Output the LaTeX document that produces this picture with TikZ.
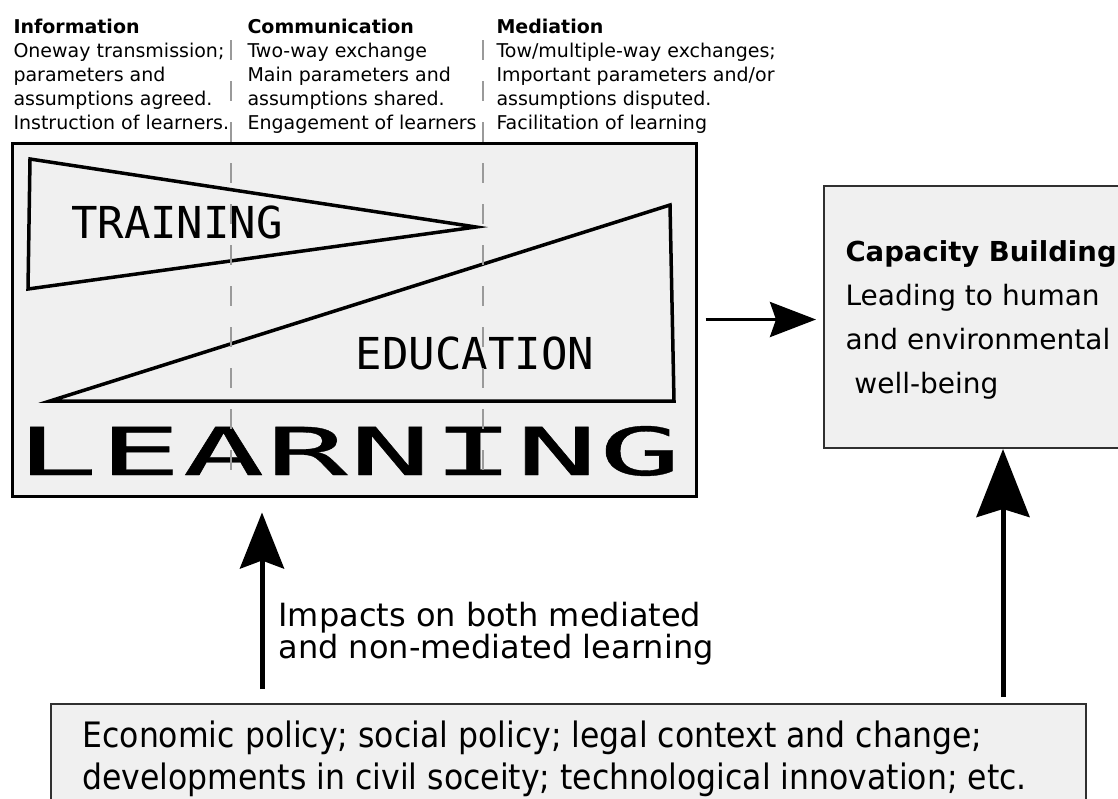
\documentclass[tikz,border=0pt]{standalone}
\usepackage{fontspec}
\setmainfont{DejaVu Sans}
\newfontfamily\monofont{DejaVu Sans Mono}
\newfontfamily\heavymono[FakeBold=0.5]{DejaVu Sans Mono}
\newfontfamily\narrowfont[FakeStretch=0.9]{DejaVu Sans}
\usetikzlibrary{arrows.meta}
\usetikzlibrary{positioning,calc}

\definecolor{boxgray}{HTML}{F0F0F0}
\definecolor{dashgray}{HTML}{9A9A9A}
\definecolor{framegray}{HTML}{303030}

\tikzset{
  panel/.style={draw=framegray,fill=boxgray,line width=2pt,inner sep=0pt},
  header/.style={anchor=north west,align=left,inner sep=0pt,font=\fontsize{19}{24}\selectfont},
  bigarrow/.style={line width=5pt,-{Stealth[length=56pt,width=44pt,inset=8pt]}},
}

\begin{document}
\begin{tikzpicture}[x=1pt,y=-1pt,line width=3pt]
    \useasboundingbox (0,0) rectangle (1118,798);
    \clip (0,0) rectangle (1118,798);

    % boxes
    \node[panel,draw=black,line width=3pt,minimum width=684pt,minimum height=353pt] (learning) at (354,319.5) {};
    \node[panel,anchor=north west,minimum width=330pt,minimum height=262pt] (capacity) at (823,185) {};
    \node[panel,anchor=north west,minimum width=1035pt,minimum height=120pt] (context) at (50,703) {};

    % column headers
    \node[header] (info) at (12,18) {\textbf{Information}\\Oneway transmission;\\parameters and\\assumptions agreed.\\Instruction of learners.};
    \node[header] (comm) at (246,18) {\textbf{Communication}\\Two-way exchange\\Main parameters and\\assumptions shared.\\Engagement of learners};
    \node[header] (medi) at (495,18) {\textbf{Mediation}\\Tow/multiple-way exchanges;\\Important parameters and/or\\assumptions disputed.\\Facilitation of learning};

    % wedges
    \coordinate (T1) at (30,159);
    \coordinate (T2) at (476,227);
    \coordinate (T3) at (28,289);
    \coordinate (E1) at (50,401);
    \coordinate (E2) at (670,205);
    \coordinate (E3) at (674,401);
    \draw[line width=3.5pt,line join=miter] (T1)--(T2)--(T3)--cycle;
    \draw[line width=3.5pt,line join=miter] (E1)--(E2)--(E3)--cycle;

    \node[anchor=base,inner sep=0pt,font=\monofont\fontsize{44}{44}\selectfont] (training) at (177,238) {TRAINING};
    \node[anchor=base,inner sep=0pt,font=\monofont\fontsize{44}{44}\selectfont] (education) at (475,369) {EDUCATION};

    \foreach \ch [count=\i from 0] in {L,E,A,R,N,I,N,G}
        \node[anchor=base,inner sep=0pt,font=\heavymono\fontsize{66}{66}\selectfont] (learn\i) at (57+83.3*\i,475) {\scalebox{2.05}[1]{\ch}};

    % column borders
    \coordinate (colA) at (231,40);
    \coordinate (colB) at (483,40);
    \draw[dashgray,line width=2.5pt,dash pattern=on 20pt off 21pt] (colA) -- (231,472);
    \draw[dashgray,line width=2.5pt,dash pattern=on 20pt off 21pt] (colB) -- (483,472);

    % texts (base = last line)
    \node[anchor=base west,inner sep=0pt,align=left,font=\fontsize{28}{44}\selectfont] (captext) at (844,393)
        {{\fontsize{27.5}{44}\selectfont\bfseries Capacity Building}\\Leading to human\\and environmental\\ \ well-being};
    \node[anchor=base west,inner sep=0pt,align=left,font=\fontsize{32}{30}\selectfont] (impacts) at (277,658)
        {Impacts on both mediated\\and non-mediated learning};
    \node[anchor=base west,inner sep=0pt,align=left,font=\narrowfont\fontsize{35}{42}\selectfont] (ctxtext) at (81,789)
        {Economic policy; social policy; legal context and change;\\developments in civil soceity; technological innovation; etc.};

    % arrows
    \coordinate (leftup) at (262,0);
    \coordinate (rightup) at (1003,0);
    \draw[bigarrow,shorten <=14pt,shorten >=15pt] (context.north -| leftup) -- (learning.south -| leftup);
    \draw[bigarrow,-{Stealth[length=68pt,width=53pt,inset=8pt]},shorten <=6pt] (context.north -| rightup) -- (capacity.south -| rightup);
    \draw[line width=3.5pt,-{Stealth[length=46pt,width=35pt,inset=6pt]},shorten <=8pt,shorten >=7pt] (learning.east) -- (learning.east -| capacity.west);
\end{tikzpicture}
\end{document}
